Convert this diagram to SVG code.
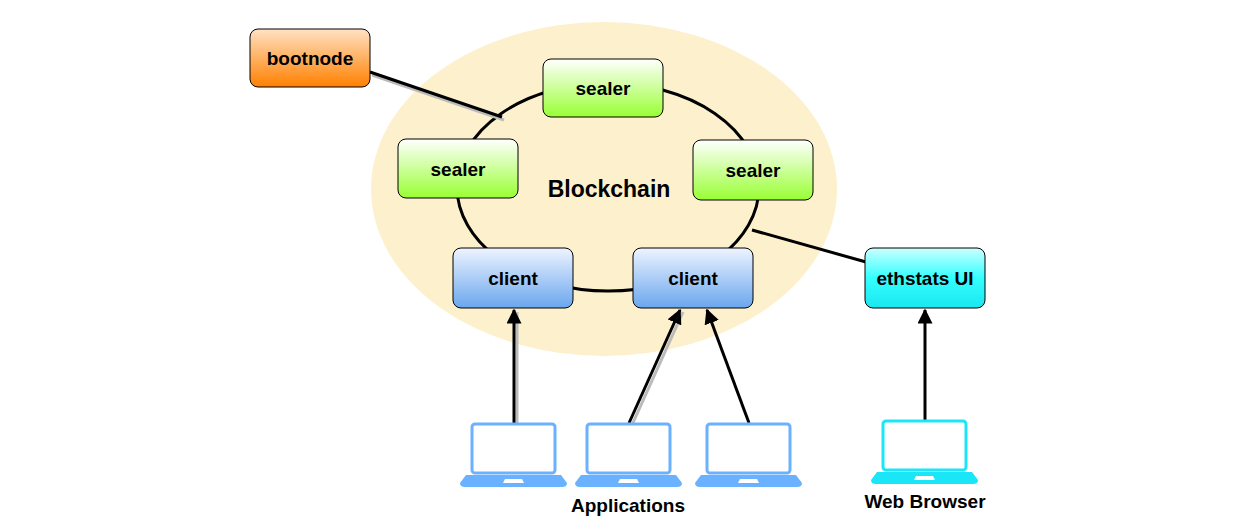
<svg xmlns="http://www.w3.org/2000/svg" width="1239" height="532" viewBox="0 0 1239 532">
<defs>
<linearGradient id="gO" x1="0" y1="0" x2="0" y2="1"><stop offset="0" stop-color="#ffe2c4"/><stop offset="1" stop-color="#ff8000"/></linearGradient>
<linearGradient id="gG" x1="0" y1="0" x2="0" y2="1"><stop offset="0" stop-color="#ffffff"/><stop offset="1" stop-color="#99ff33"/></linearGradient>
<linearGradient id="gB" x1="0" y1="0" x2="0" y2="1"><stop offset="0" stop-color="#eef4ff"/><stop offset="1" stop-color="#6aa6ee"/></linearGradient>
<linearGradient id="gC" x1="0" y1="0" x2="0" y2="1"><stop offset="0" stop-color="#ccffff"/><stop offset="0.5" stop-color="#33ffff"/><stop offset="1" stop-color="#1ae6f0"/></linearGradient>
<marker id="ah" viewBox="0 0 10 10" refX="9" refY="5" markerWidth="5" markerHeight="5" orient="auto"><path d="M0,0 L10,5 L0,10 z" fill="#000"/></marker>
<g id="laptop">
<rect x="10" y="2" width="83" height="49" rx="3" fill="#fff" stroke="currentColor" stroke-width="3"/>
<path d="M4,53 H99 L105,61 Q105,65 100,65 H3 Q-2,65 -2,61 Z" fill="currentColor"/>
<path d="M43,57 H60 L62,61 H41 Z" fill="#fff"/>
</g>
</defs>
<style>
.n{stroke:#000;stroke-width:1}
.t{font-family:"Liberation Sans",Arial,sans-serif;font-weight:bold;font-size:19px;text-anchor:middle;fill:#000}
.c{stroke:#000;stroke-width:3;fill:none}
.s{stroke:#bbb;stroke-width:3;fill:none}
</style>
<ellipse cx="604" cy="189" rx="233" ry="167" fill="#fdf0cc"/>
<g id="connectors">
<ellipse cx="608" cy="187" rx="151" ry="104" class="c"/>
<line x1="372" y1="75" x2="504" y2="120" class="s"/>
<line x1="370" y1="72" x2="502" y2="117" class="c"/>
<line x1="752" y1="230" x2="866" y2="262" class="c"/>
<line x1="517" y1="425" x2="517" y2="312" class="s"/>
<line x1="514" y1="425" x2="514" y2="310" class="c" marker-end="url(#ah)"/>
<line x1="632" y1="425" x2="683" y2="312" class="s"/>
<line x1="629" y1="423" x2="680" y2="310" class="c" marker-end="url(#ah)"/>
<line x1="749" y1="423" x2="707" y2="310" class="c" marker-end="url(#ah)"/>
<line x1="925" y1="420" x2="925" y2="310" class="c" marker-end="url(#ah)"/>
</g>
<g id="bootnode"><rect x="250" y="29" width="120" height="58" rx="8" fill="url(#gO)" class="n"/><text x="310" y="65" class="t">bootnode</text></g>
<g id="sealer1"><rect x="543" y="59" width="120" height="58" rx="8" fill="url(#gG)" class="n"/><text x="603" y="95" class="t">sealer</text></g>
<g id="sealer2"><rect x="398" y="139" width="120" height="59" rx="8" fill="url(#gG)" class="n"/><text x="458" y="176" class="t">sealer</text></g>
<g id="sealer3"><rect x="693" y="140" width="120" height="60" rx="8" fill="url(#gG)" class="n"/><text x="753" y="177" class="t">sealer</text></g>
<g id="blockchain"><text x="609" y="197" class="t" style="font-size:23px">Blockchain</text></g>
<g id="client1"><rect x="453" y="248" width="120" height="60" rx="8" fill="url(#gB)" class="n"/><text x="513" y="285" class="t">client</text></g>
<g id="client2"><rect x="633" y="248" width="120" height="60" rx="8" fill="url(#gB)" class="n"/><text x="693" y="285" class="t">client</text></g>
<g id="ethstats"><rect x="865" y="248" width="120" height="60" rx="8" fill="url(#gC)" class="n"/><text x="925" y="285" class="t">ethstats UI</text></g>
<g id="app1" style="color:#6ab2ff"><use href="#laptop" x="462" y="422"/></g>
<g id="app2" style="color:#6ab2ff"><use href="#laptop" x="577" y="422"/></g>
<g id="app3" style="color:#6ab2ff"><use href="#laptop" x="697" y="422"/></g>
<g id="browser" style="color:#1ae6f8"><use href="#laptop" x="873" y="419"/></g>
<text x="628" y="512" class="t">Applications</text>
<text x="925" y="508" class="t">Web Browser</text>
</svg>
